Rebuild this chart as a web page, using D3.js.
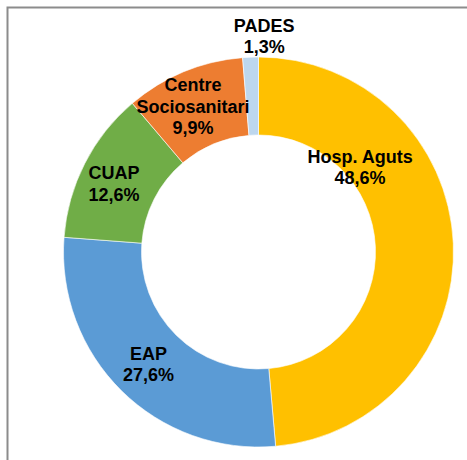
<!DOCTYPE html>
<html>
<head>
<meta charset="utf-8">
<script src="https://cdn.jsdelivr.net/npm/d3@7"></script>
<style>
  html, body { margin: 0; padding: 0; background: #fff; }
  svg { display: block; }
</style>
</head>
<body>
<div id="chart"></div>
<script>
// data
var categories = ['Hosp. Aguts', 'EAP', 'CUAP', 'Centre Sociosanitari', 'PADES'];
var values = [48.6, 27.6, 12.6, 9.9, 1.3];
var colors = ['#FFC000', '#5B9BD5', '#70AD47', '#ED7D31', '#BDD7EE'];
// label text lines
var labelLines = [['Hosp. Aguts'], ['EAP'], ['CUAP'], ['Centre', 'Sociosanitari'], ['PADES']];

// label placement (angle deg clockwise from top, radius from centre)
var labelAng = [50.1, 224.5, 295.4, 335.8, 1.5];
var labelRad = [132.4, 157, 159.9, 159.6, 216];

var w = 467, h = 460;
var cx = 258.5, cy = 252;
var outerR = 195, innerR = 117;

var svg = d3.select('#chart').append('svg')
    .attr('width', w)
    .attr('height', h);

// frame (only top and left visible)
svg.append('rect')
    .attr('x', 7.5).attr('y', 7.5)
    .attr('width', 480).attr('height', 480)
    .attr('fill', 'none')
    .attr('stroke', '#8c8c8c')
    .attr('stroke-width', 2);

var pie = d3.pie().sort(null).value(function(d){ return d; });
var arc = d3.arc().innerRadius(innerR).outerRadius(outerR);

var g = svg.append('g').attr('transform', 'translate(' + cx + ',' + cy + ')');

g.selectAll('path')
    .data(pie(values))
    .enter()
    .append('path')
    .attr('d', arc)
    .attr('fill', function(d, i){ return colors[i]; })
    .attr('stroke', '#fff')
    .attr('stroke-width', 0.6);

var fmt = function(v){ return v.toFixed(1).replace('.', ',') + '%'; };
var lineH = 21.5;

categories.forEach(function(c, i){
    var a = labelAng[i] * Math.PI / 180;
    var x = labelRad[i] * Math.sin(a);
    var y = -labelRad[i] * Math.cos(a);
    var lines = labelLines[i].concat([fmt(values[i])]);
    var n = lines.length;
    var t = g.append('text')
        .attr('text-anchor', 'middle')
        .attr('font-family', '"Liberation Sans", Arial, sans-serif')
        .attr('font-weight', 'bold')
        .attr('font-size', '18px')
        .attr('fill', '#000');
    lines.forEach(function(l, j){
        t.append('tspan')
            .attr('x', x)
            .attr('y', y + 6.5 - (n - 1) / 2 * lineH + j * lineH)
            .text(l);
    });
});
</script>
</body>
</html>
